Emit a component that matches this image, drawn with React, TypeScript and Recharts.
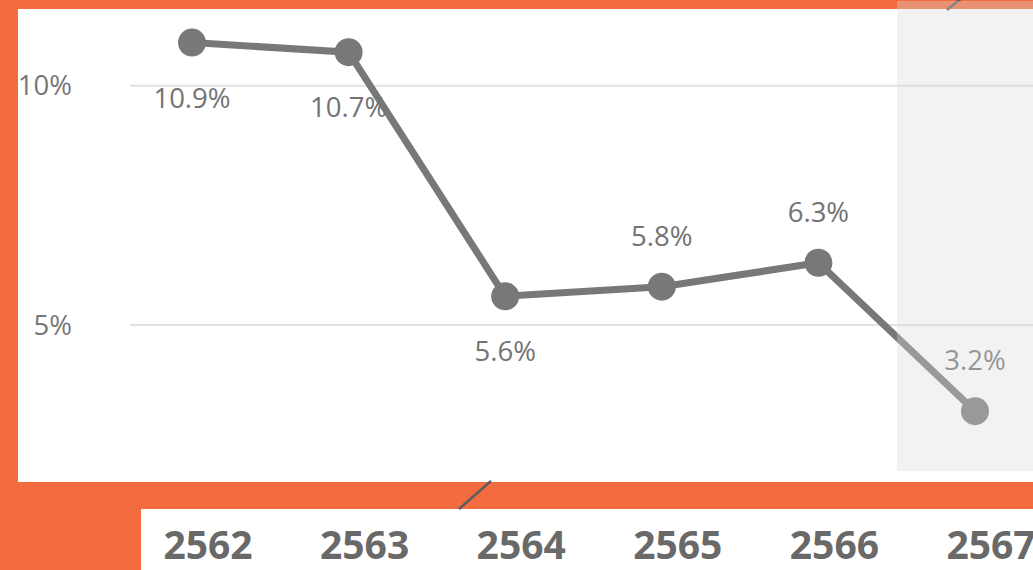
import React from 'react';
import { LineChart, Line, XAxis, YAxis, CartesianGrid, LabelList } from 'recharts';

const categories = ['2562', '2563', '2564', '2565', '2566', '2567'];
const rates = [10.9, 10.7, 5.6, 5.8, 6.3, 3.2];
const yTicks = [5, 10];
const yDomain = [2, 11];
const labelSides = ['below', 'below', 'below', 'above', 'above', 'above'];

const data = categories.map((year, i) => ({ year, rate: rates[i] }));

const FONT = '"Open Sans", "Noto Sans", sans-serif';
const ORANGE = '#F26C3F';
const LINE = '#787878';

const XTick = (props: any) => {
  const { x, y, payload } = props;
  return (
    <text x={x + 16} y={y + 82} textAnchor="middle" fill="#696969" fontSize={39} fontWeight={700} fontFamily={FONT}>
      {payload.value}
    </text>
  );
};

const PointLabel = (props: any) => {
  const { x, y, value, index } = props;
  const below = labelSides[index] === 'below';
  return (
    <text x={x} y={below ? y + 65 : y - 41} textAnchor="middle" fill="#737373" fontSize={27.5} fontFamily={FONT}>
      {`${value}%`}
    </text>
  );
};

const gridRows = (p: any) => {
  const s = p && p.yAxis ? p.yAxis.scale : null;
  if (typeof s === 'function') return yTicks.map((t) => s(t));
  if (s && typeof s.map === 'function' && !Array.isArray(s)) return yTicks.map((t) => s.map(t));
  const top = p.offset.top;
  const h = p.offset.height;
  return yTicks.map((t) => top + (h * (yDomain[1] - t)) / (yDomain[1] - yDomain[0]));
};

export default function App() {
  return (
    <div style={{ position: 'absolute', left: 0, top: 0, width: 1033, height: 570, overflow: 'hidden', background: ORANGE }}>
      <div style={{ position: 'absolute', left: 18, top: 9, width: 1015, height: 473, background: '#ffffff' }} />
      <div style={{ position: 'absolute', left: 141, top: 509, width: 892, height: 61, background: '#ffffff' }} />
      <svg style={{ position: 'absolute', left: 0, top: 0 }} width={1033} height={570}>
        <line x1={963} y1={-3} x2={947} y2={10} stroke="#5c5c5c" strokeWidth={2.5} />
        <line x1={491} y1={481} x2={459} y2={509} stroke="#5c5c5c" strokeWidth={2.5} />
      </svg>
      <div style={{ position: 'absolute', left: 0, top: 0 }}>
        <LineChart width={1033} height={570} data={data} margin={{ top: 37.8, right: 0, bottom: 41.4, left: 0 }}>
          <CartesianGrid
            vertical={false}
            stroke="#e2e2e2"
            strokeWidth={2}
            horizontalCoordinatesGenerator={gridRows}
          />
          <XAxis
            dataKey="year"
            height={60}
            padding={{ left: 62, right: 58 }}
            axisLine={false}
            tickLine={false}
            tick={<XTick />}
            interval={0}
          />
          <YAxis
            width={130}
            domain={yDomain}
            ticks={yTicks}
            axisLine={false}
            tickLine={false}
            tickMargin={52}
            tickFormatter={(v: number) => `${v}%`}
            tick={{ fill: '#777777', fontSize: 27.5, fontFamily: FONT }}
          />
          <Line
            type="linear"
            dataKey="rate"
            stroke={LINE}
            strokeWidth={7}
            dot={{ r: 14, fill: LINE, stroke: 'none', strokeWidth: 0, clipDot: false }}
            activeDot={false}
            isAnimationActive={false}
          >
            <LabelList dataKey="rate" content={<PointLabel />} />
          </Line>
        </LineChart>
      </div>
      <div style={{ position: 'absolute', left: 897, top: 1, width: 136, height: 470, background: 'rgba(216,216,216,0.34)', pointerEvents: 'none' }} />
    </div>
  );
}
